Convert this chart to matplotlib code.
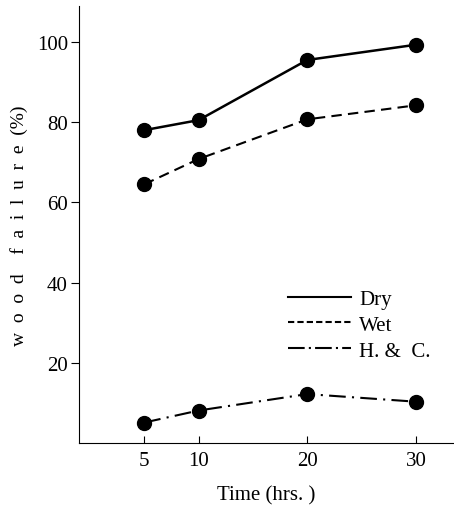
import matplotlib
matplotlib.use("Agg")
import matplotlib.pyplot as plt
from matplotlib.lines import Line2D

plt.rcParams['font.family'] = ['Liberation Serif', 'DejaVu Serif']

hours = [5, 10, 20, 30]
dry = [78, 80.5, 95.5, 99.3]
wet = [64.5, 70.8, 80.7, 84.2]
hc = [5.1, 8.1, 12.2, 10.3]
x_ticks = [5, 10, 20, 30]
y_ticks = [20, 40, 60, 80, 100]
series_names = ['Dry', 'Wet', 'H. &  C.']

fig = plt.figure(figsize=(4.54, 5.06), dpi=100)
ax = fig.add_axes([0.174, 0.1225, 0.826, 0.864])

ax.plot(hours, dry, color='black', linestyle='-', linewidth=1.8,
        marker='o', markersize=10)
ax.plot(hours, wet, color='black', linestyle=(0, (5, 3)), linewidth=1.5,
        marker='o', markersize=10)
ax.plot(hours, hc, color='black', linestyle=(0, (8, 3, 1, 3)), linewidth=1.5,
        marker='o', markersize=10)

ax.set_xlim(-1, 33.5)
ax.set_ylim(0, 109)
ax.set_xticks(x_ticks)
ax.set_yticks(y_ticks)
ax.tick_params(axis='x', direction='in', length=5, labelsize=15, pad=6)
ax.tick_params(axis='y', direction='out', length=6, labelsize=15, pad=2)

for s in ['top', 'right']:
    ax.spines[s].set_visible(False)
for s in ['left', 'bottom']:
    ax.spines[s].set_linewidth(0.8)
    ax.spines[s].set_linestyle((0, (6, 1)))

ax.set_xlabel('Time (hrs. )', fontsize=15, labelpad=11)
# the printed label is letter-spaced
ax.set_ylabel('w  o  o  d    f  a  i  l  u  r  e  (%)', fontsize=14, labelpad=6)

# legend: lines only, no markers
handles = [Line2D([], [], color='black', linestyle='-', linewidth=1.5),
           Line2D([], [], color='black', linestyle=(0, (3, 1.5)), linewidth=1.5),
           Line2D([], [], color='black', linestyle=(0, (8, 2, 1, 2)), linewidth=1.5)]
ax.legend(handles, series_names, loc='upper left',
          bbox_to_anchor=(280 / 454, 1 - 282 / 506), bbox_transform=fig.transFigure,
          borderaxespad=0, frameon=False, fontsize=15,
          handlelength=3.0, handletextpad=0.4, labelspacing=0.3)

fig.savefig('out.png', dpi=100)
